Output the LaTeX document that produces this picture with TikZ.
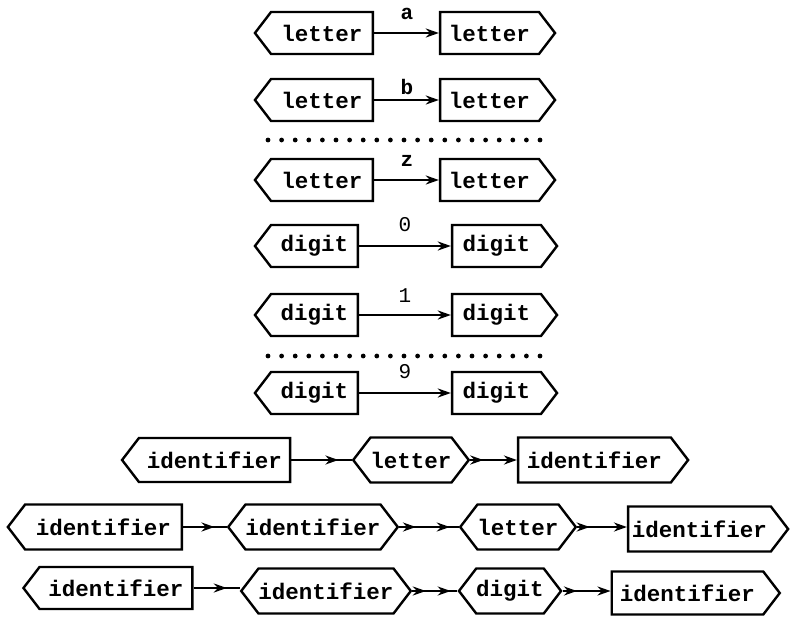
\documentclass[tikz,border=0pt]{standalone}
\usepackage{fontspec}
\setmonofont{Liberation Mono}
\usetikzlibrary{shapes.symbols,arrows.meta,decorations.markings}
\tikzset{
  box/.style={draw, line width=2.4pt, shape=signal, signal pointer angle=105,
    inner sep=0pt, minimum height=42pt, line join=miter,
    font=\fontsize{22.5}{24}\selectfont\ttfamily\bfseries},
  lbox/.style={box, signal to=west},
  rbox/.style={box, signal to=east},
  hbox/.style={box, signal to=east and west},
  endtip/.style={-{Stealth[length=13pt,width=9pt]}},
  conn/.style={line width=2.3pt},
  onetip/.style={postaction={decorate}, decoration={markings,
    mark=at position #1 with {\arrow{Stealth[length=13pt,width=9pt]}}}},
  twotip/.style 2 args={postaction={decorate}, decoration={markings,
    mark=at position #1 with {\arrow{Stealth[length=13pt,width=9pt]}},
    mark=at position #2 with {\arrow{Stealth[length=13pt,width=9pt]}}}},
  lab/.style={font=\fontsize{21}{22}\selectfont\ttfamily, anchor=base, inner sep=0pt},
  blab/.style={lab, font=\fontsize{21}{22}\selectfont\ttfamily\bfseries}
}
\begin{document}
\begin{tikzpicture}[x=1pt,y=-1pt]
\useasboundingbox (0,0) rectangle (790,619);
% letter rows
\node[lbox, minimum width=118pt] (la1) at (322,33) {letter};
\node[rbox, minimum width=115pt] (la2) at (489.5,33) {letter};
\node[blab] (ta) at (407,19) {a};
\node[lbox, minimum width=118pt] (lb1) at (322,100) {letter};
\node[rbox, minimum width=115pt] (lb2) at (489.5,100) {letter};
\node[blab] (tb) at (407,94) {b};
\node[lbox, minimum width=118pt] (lz1) at (322,180) {letter};
\node[rbox, minimum width=115pt] (lz2) at (489.5,180) {letter};
\node[blab] (tz) at (407,166) {z};
% digit rows
\node[lbox, minimum width=103pt] (d01) at (314.5,246) {digit};
\node[rbox, minimum width=105pt] (d02) at (496.5,246) {digit};
\node[lab] (t0) at (405,231) {0};
\node[lbox, minimum width=103pt] (d11) at (314.5,315) {digit};
\node[rbox, minimum width=105pt] (d12) at (496.5,315) {digit};
\node[lab] (t1) at (405,302) {1};
\node[lbox, minimum width=103pt] (d91) at (314.5,393) {digit};
\node[rbox, minimum width=105pt] (d92) at (496.5,393) {digit};
\node[lab] (t9) at (405,378) {9};
\foreach \p/\q in {la1/la2,lb1/lb2,lz1/lz2,d01/d02,d11/d12,d91/d92}
  \draw[conn,endtip] (\p.east) -- (\q.west);
% dotted separators
\foreach \i in {0,...,20} {
  \fill (268+13.6*\i,140) circle (2.4pt);
  \fill (268+13.6*\i,356) circle (2.4pt);
}
% identifier rows
\node[lbox, minimum width=168pt, minimum height=44pt] (ia1) at (214.5,460) {identifier};
\node[hbox, minimum width=108pt, minimum height=45pt] (ia2) at (411,460) {letter};
\node[rbox, minimum width=170pt, minimum height=45pt] (ia3) at (594.5,460) {identifier};
\draw[conn,onetip=0.78] (ia1.east) -- (ia2.west);
\draw[conn,onetip=0.28,endtip] (ia2.east) -- (ia3.west);

\node[lbox, minimum width=174pt, minimum height=45pt] (ib1) at (103.5,527) {identifier};
\node[hbox, minimum width=160pt, minimum height=45pt] (ib2) at (313,527) {identifier};
\node[hbox, minimum width=110pt, minimum height=45pt] (ib3) at (518,527) {letter};
\node[rbox, minimum width=160pt, minimum height=45pt] (ib4) at (699.5,529) {identifier};
\draw[conn,onetip=0.72] (ib1.east) -- (ib2.west);
\draw[conn,twotip={0.28}{0.85}] (ib2.east) -- (ib3.west);
\draw[conn,onetip=0.25,endtip] (ib3.east) -- (ib4.west |- ib3.east);

\node[lbox, minimum width=169pt, minimum height=42pt] (ic1) at (116,588) {identifier};
\node[hbox, minimum width=158pt, minimum height=45pt] (ic2) at (326,591) {identifier};
\node[hbox, minimum width=94pt, minimum height=45pt] (ic3) at (510,591) {digit};
\node[rbox, minimum width=168pt, minimum height=43pt] (ic4) at (687.5,593) {identifier};
\draw[conn,onetip=0.72] (ic1.east) -- (ic2.west |- ic1.east);
\draw[conn,twotip={0.3}{0.85}] (ic2.east) -- (ic3.west);
\draw[conn,onetip=0.3,endtip] (ic3.east) -- (ic4.west |- ic3.east);
\end{tikzpicture}
\end{document}
